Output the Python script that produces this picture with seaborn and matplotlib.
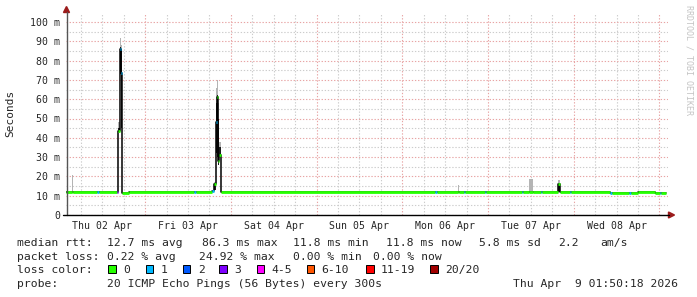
import matplotlib
matplotlib.use("Agg")
import matplotlib.pyplot as plt
import seaborn as sns
import pandas as pd
from matplotlib.ticker import FixedLocator, FuncFormatter, MultipleLocator, NullFormatter
from matplotlib.patches import Polygon, Rectangle
from matplotlib.lines import Line2D

# ---------------- data ----------------
# step segments; start time in hours since Thu 02 Apr 00:00
seg_start_h = [1.84, 3.60, 3.90, 10.40, 11.00, 16.00, 16.45, 16.95, 17.30, 17.65,
               19.50, 37.60, 38.20, 42.80, 43.36, 43.70, 44.12, 44.35, 44.68, 45.24,
               105.2, 105.6, 111.6, 112.0, 113.3, 113.6, 119.1, 119.4, 129.4, 129.7,
               131.6, 132.5, 134.7, 135.0, 139.5, 140.1, 142.9, 143.2, 154.2, 154.6,
               159.6, 159.9, 162.0, 166.8, 168.2, 168.5]
end_h = 169.84
median_ms = [12.0, 12.0, 12.0, 12.0, 12.0, 12.0, 43.5, 86.0, 73.5, 11.4,
             12.0, 12.0, 12.0, 12.2, 16.0, 48.0, 61.0, 28.0, 31.0, 12.0,
             12.0, 12.0, 12.0, 12.0, 12.0, 12.0, 12.0, 12.0, 12.0, 12.0,
             12.0, 12.0, 12.0, 12.0, 16.0, 12.0, 12.0, 12.0, 11.5, 11.4,
             11.4, 11.4, 12.0, 11.6, 11.6, 11.6]
loss_count = [0, 0, 0, 1, 0, 3, 0, 1, 1, 0,
              0, 1, 0, 1, 0, 1, 0, 0, 0, 0,
              1, 0, 0, 0, 1, 0, 1, 0, 1, 0,
              0, 0, 1, 0, 0, 0, 1, 0, 1, 0,
              1, 0, 0, 0, 1, 0]
smoke_dark_lo = [12.0, 12.0, 12.0, 12.0, 12.0, 12.0, 43.0, 75.0, 45.0, 11.4,
                 12.0, 12.0, 12.0, 12.2, 13.0, 32.0, 30.0, 26.0, 30.0, 12.0,
                 12.0, 12.0, 12.0, 12.0, 12.0, 12.0, 12.0, 12.0, 12.0, 12.0,
                 12.0, 12.0, 12.0, 12.0, 12.0, 12.0, 12.0, 12.0, 11.5, 11.4,
                 11.4, 11.4, 12.0, 11.6, 11.6, 11.6]
smoke_dark_hi = [12.0, 12.0, 12.0, 12.0, 12.0, 12.0, 45.0, 87.0, 86.0, 11.4,
                 12.0, 12.0, 12.0, 12.2, 16.5, 58.0, 62.0, 50.0, 35.0, 12.0,
                 12.0, 12.0, 12.0, 12.0, 12.0, 12.0, 12.0, 12.0, 12.0, 12.0,
                 12.0, 12.0, 12.0, 12.0, 16.2, 12.0, 12.0, 12.0, 11.5, 11.4,
                 11.4, 11.4, 12.0, 11.6, 11.6, 11.6]
smoke_max = [12.0, 20.5, 12.0, 12.0, 12.0, 12.0, 48.0, 91.5, 88.0, 11.4,
             12.0, 12.0, 12.0, 12.2, 17.0, 66.0, 70.0, 58.0, 38.0, 12.0,
             12.0, 12.0, 15.5, 12.0, 12.0, 12.0, 12.0, 12.0, 12.0, 12.0,
             18.6, 12.0, 12.0, 12.0, 18.0, 12.0, 12.0, 12.0, 11.5, 11.4,
             11.4, 11.4, 12.0, 11.6, 11.6, 11.6]

loss_labels = ["0", "1", "2", "3", "4-5", "6-10", "11-19", "20/20"]
loss_colors = ["#26ff00", "#00b8ff", "#0059ff", "#7e00ff", "#ff00ff", "#ff5500", "#ff0000", "#a10000"]
day_labels = ["Thu 02 Apr", "Fri 03 Apr", "Sat 04 Apr", "Sun 05 Apr",
              "Mon 06 Apr", "Tue 07 Apr", "Wed 08 Apr"]
y_ticks_ms = [0, 10, 20, 30, 40, 50, 60, 70, 80, 90, 100]

stats_rtt = [("median rtt:", 17.3), ("12.7 ms avg", 107.3), ("86.3 ms max", 201.7),
             ("11.8 ms min", 293.3), ("11.8 ms now", 386.0), ("5.8 ms sd", 479.3),
             ("2.2", 558.3), ("am/s", 600.0)]
stats_loss = [("packet loss:", 17.3), ("0.22 % avg", 107.3), ("24.92 % max", 199.3),
              ("0.00 % min", 293.3), ("0.00 % now", 372.7)]
probe_text = "20 ICMP Echo Pings (56 Bytes) every 300s"
date_text = "Thu Apr  9 01:50:18 2026"

# ---------------- style ----------------
sns.set_style("white")
plt.rcParams['font.family'] = ['DejaVu Sans Mono']

W, H = 697, 297
fig = plt.figure(figsize=(W / 100, H / 100), dpi=100)
fig.patch.set_facecolor("white")


def fx(x):
    return x / W


def fy(y):
    return 1 - y / H


PX_PER_H = 600 / 168.0
x_left_px, x_right_px, y_top_px, y_bot_px = 66, 668, 13, 215
ax = fig.add_axes([fx(x_left_px), fy(y_bot_px), (x_right_px - x_left_px) / W,
                   (y_bot_px - y_top_px) / H])
x0 = 1.839
ax.set_xlim(x0, x0 + (x_right_px - x_left_px) / PX_PER_H)
ax.set_ylim(0, (y_bot_px - y_top_px) / 1.93)
for s in ax.spines.values():
    s.set_visible(False)


def loss_idx(n):
    if n <= 3:
        return n
    if n <= 5:
        return 4
    if n <= 10:
        return 5
    if n <= 19:
        return 6
    return 7


xs = seg_start_h + [end_h]


def ext(v):
    return v + [v[-1]]


# smoke
ax.fill_between(xs, ext(smoke_dark_hi), ext(smoke_max), step="post",
                color="#b4b4b4", lw=0, zorder=2)
ax.fill_between(xs, ext(smoke_dark_lo), ext(smoke_dark_hi), step="post",
                color="#1c1c1c", lw=0, zorder=3)

# median step line (black) via seaborn
df = pd.DataFrame({"t": xs, "median": ext(median_ms)})
sns.lineplot(data=df, x="t", y="median", ax=ax, drawstyle="steps-post",
             estimator=None, sort=False, color="black", lw=1.1, zorder=4)

# colored median by loss
for i, st in enumerate(seg_start_h):
    en = xs[i + 1]
    ax.hlines(median_ms[i], st, en, colors=loss_colors[loss_idx(loss_count[i])],
              lw=2.0, zorder=5)

ax.set_xlabel("")
ax.set_ylabel("")

# ticks / grid
ax.yaxis.set_major_locator(FixedLocator(y_ticks_ms))
ax.yaxis.set_minor_locator(MultipleLocator(5))
ax.yaxis.set_major_formatter(FuncFormatter(lambda v, p: "0" if v == 0 else f"{int(v)} m"))
ax.xaxis.set_major_locator(FixedLocator([24 * k for k in range(1, 8)]))
minor_x = [6 * k for k in range(1, 29) if k % 4 != 0]
ax.xaxis.set_minor_locator(FixedLocator(minor_x))
ax.xaxis.set_major_formatter(NullFormatter())
ax.xaxis.set_minor_formatter(FuncFormatter(
    lambda v, p: day_labels[int(v // 24)] if (int(round(v)) % 24 == 12 and int(v // 24) < len(day_labels)) else ""))

grid_major = dict(color="#e8a4a4", linestyle=(0, (1.2, 1.6)), linewidth=0.8)
grid_minor = dict(color="#cccccc", linestyle=(0, (1.2, 1.6)), linewidth=0.8)
ax.grid(True, which="major", **grid_major)
ax.grid(True, which="minor", **grid_minor)
ax.set_axisbelow(True)

ax.tick_params(axis="y", which="both", direction="out", length=2.2, width=0.7,
               color="#666666", labelsize=7.1, pad=2.0)
ax.tick_params(axis="x", which="both", direction="out", length=1.5, width=0.7,
               color="#666666", labelsize=7.1, pad=3.0)
ax.tick_params(axis="x", which="minor", labelsize=7.1)

# axis lines with arrows
fig.add_artist(Line2D([fx(66.5), fx(66.5)], [fy(215), fy(12)], color="#555555",
                      lw=1.0, transform=fig.transFigure))
fig.add_artist(Line2D([fx(63), fx(669)], [fy(215), fy(215)], color="black",
                      lw=1.0, transform=fig.transFigure))
arrow_c = "#9b1b1b"
fig.add_artist(Polygon([[fx(63.5), fy(12.5)], [fx(69.5), fy(12.5)], [fx(66.5), fy(6.5)]],
                       closed=True, color=arrow_c, transform=fig.transFigure))
fig.add_artist(Polygon([[fx(668.5), fy(212)], [fx(668.5), fy(218)], [fx(674.5), fy(215)]],
                       closed=True, color=arrow_c, transform=fig.transFigure))

# y label and watermark
fig.text(fx(10), fy(113), "Seconds", rotation=90, ha="center", va="center", fontsize=8)
fig.text(fx(688.5), fy(60), "RRDTOOL / TOBI OETIKER", rotation=270, ha="center",
         va="center", fontsize=6, color="#c4c4c4")

# legend / stats text
fs = 8.2
for s, x in stats_rtt:
    fig.text(fx(x), fy(246), s, fontsize=fs, ha="left", va="baseline")
for s, x in stats_loss:
    fig.text(fx(x), fy(260), s, fontsize=fs, ha="left", va="baseline")
fig.text(fx(17.3), fy(273), "loss color:", fontsize=fs, ha="left", va="baseline")
box_x = [108.3, 145.7, 182.7, 219.3, 256.7, 306.7, 366.0, 430.0]
for lab, col, bx in zip(loss_labels, loss_colors, box_x):
    fig.add_artist(Rectangle((fx(bx), fy(272.7)), 7.5 / W, 8 / H, facecolor=col,
                             edgecolor="black", lw=0.7, transform=fig.transFigure))
    fig.text(fx(bx + 15), fy(273), lab, fontsize=fs, ha="left", va="baseline")
fig.text(fx(17.3), fy(287), "probe:", fontsize=fs, ha="left", va="baseline")
fig.text(fx(107.3), fy(287), probe_text, fontsize=fs, ha="left", va="baseline")
fig.text(fx(513.3), fy(287), date_text, fontsize=fs, ha="left", va="baseline")

fig.savefig("out.png", dpi=100, facecolor="white")
